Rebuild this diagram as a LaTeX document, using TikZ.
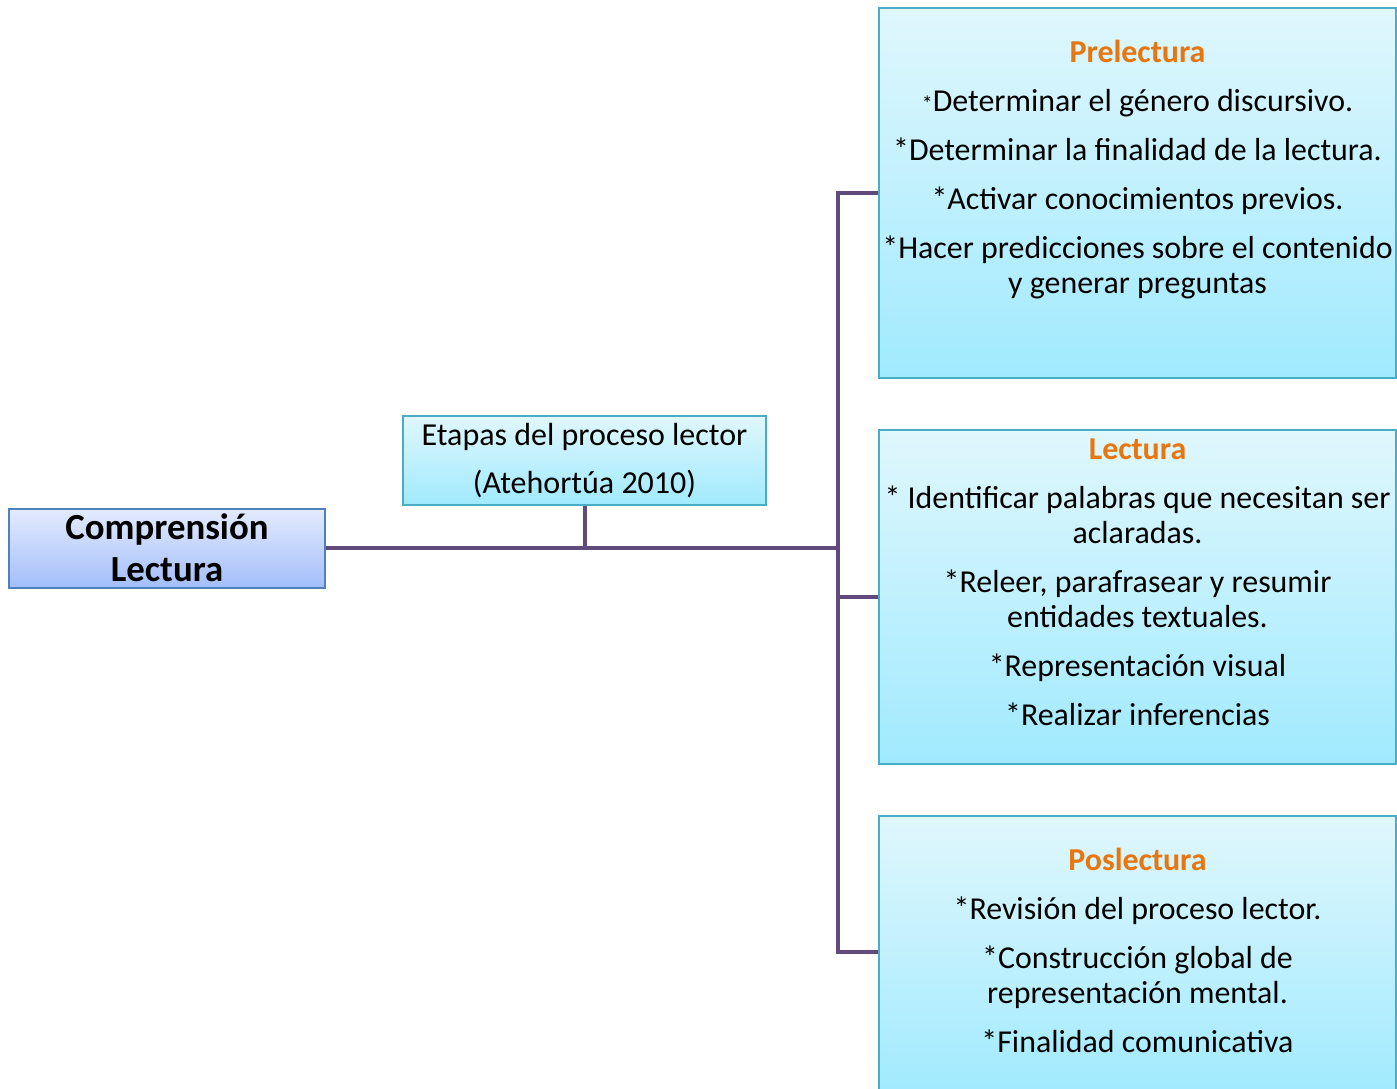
\documentclass[tikz,border=0pt]{standalone}
\usepackage{fontspec}
\setmainfont{Carlito}
\usetikzlibrary{positioning}

\definecolor{lila}{HTML}{604A7B}
\definecolor{cian}{HTML}{4BACC6}
\definecolor{azul}{HTML}{4F81BD}
\definecolor{naranja}{HTML}{E8760E}
\definecolor{cajaarriba}{HTML}{E0F7FD}
\definecolor{cajaabajo}{HTML}{A0EAFE}
\definecolor{raizarriba}{HTML}{E4EBFD}
\definecolor{raizabajo}{HTML}{A3BEFA}

\begin{document}
\begin{tikzpicture}[x=0.5pt,y=-0.5pt,
    rama/.style={draw=lila,line width=2pt},
    raiz/.style={draw=azul,line width=1pt,top color=raizarriba,bottom color=raizabajo,
        minimum width=158pt,minimum height=39.5pt,align=center,inner sep=0pt,
        font=\fontsize{18.4}{21}\selectfont\bfseries},
    caja/.style={draw=cian,line width=1pt,top color=cajaarriba,bottom color=cajaabajo,
        align=center,inner sep=0pt},
    texto/.style={align=center,inner sep=0pt,anchor=north,
        font=\fontsize{15.95}{17.5}\selectfont}]
\useasboundingbox (0,0) rectangle (1397,1088);
\clip (0,0) rectangle (1397,1088);

% cajas
\node[raiz] (comp) at (167,548) {Comprensión\\Lectura};
\node[caja,minimum width=181.5pt,minimum height=44.5pt,font=\fontsize{16}{17.5}\selectfont]
    (etap) at (584.5,460.5) {Etapas del proceso lector\\[6.5pt](Atehortúa 2010)};
\node[caja,minimum width=258.5pt,minimum height=185pt] (prel) at (1137.5,193) {};
\node[caja,minimum width=258.5pt,minimum height=167pt] (lect) at (1137.5,597) {};
\node[caja,minimum width=258.5pt,minimum height=140pt] (posl) at (1137.5,956) {};

% textos
\node[texto,below=16.5pt of prel.north] (prelt) {\textcolor{naranja}{\bfseries Prelectura}\\[7pt]
    {\fontsize{11}{11}\selectfont*}Determinar el género discursivo.\\[7pt]
    *Determinar la finalidad de la lectura.\\[7pt]
    *Activar conocimientos previos.\\[7pt]
    *Hacer predicciones sobre el contenido\\
    y generar preguntas};
\node[texto,below=4.5pt of lect.north] (lectt) {\textcolor{naranja}{\bfseries Lectura}\\[7pt]
    * Identificar palabras que necesitan ser\\
    aclaradas.\\[7pt]
    *Releer, parafrasear y resumir\\
    entidades textuales.\\[7pt]
    *Representación visual\\[7pt]
    *Realizar inferencias};
\node[texto,below=16.5pt of posl.north] (poslt) {\textcolor{naranja}{\bfseries Poslectura}\\[7pt]
    *Revisión del proceso lector.\\[7pt]
    *Construcción global de\\
    representación mental.\\[7pt]
    *Finalidad comunicativa};

% conectores
\coordinate (tronco) at (838,548);
\draw[rama] (comp.east) -- (tronco);
\draw[rama] (etap.south) -- (etap.south |- tronco);
\draw[rama] (prel.west) -- (prel.west -| tronco) -- ([yshift=2pt]posl.west -| tronco)
    -- ([yshift=2pt]posl.west);
\draw[rama] (lect.west) -- (lect.west -| tronco);
\end{tikzpicture}
\end{document}
